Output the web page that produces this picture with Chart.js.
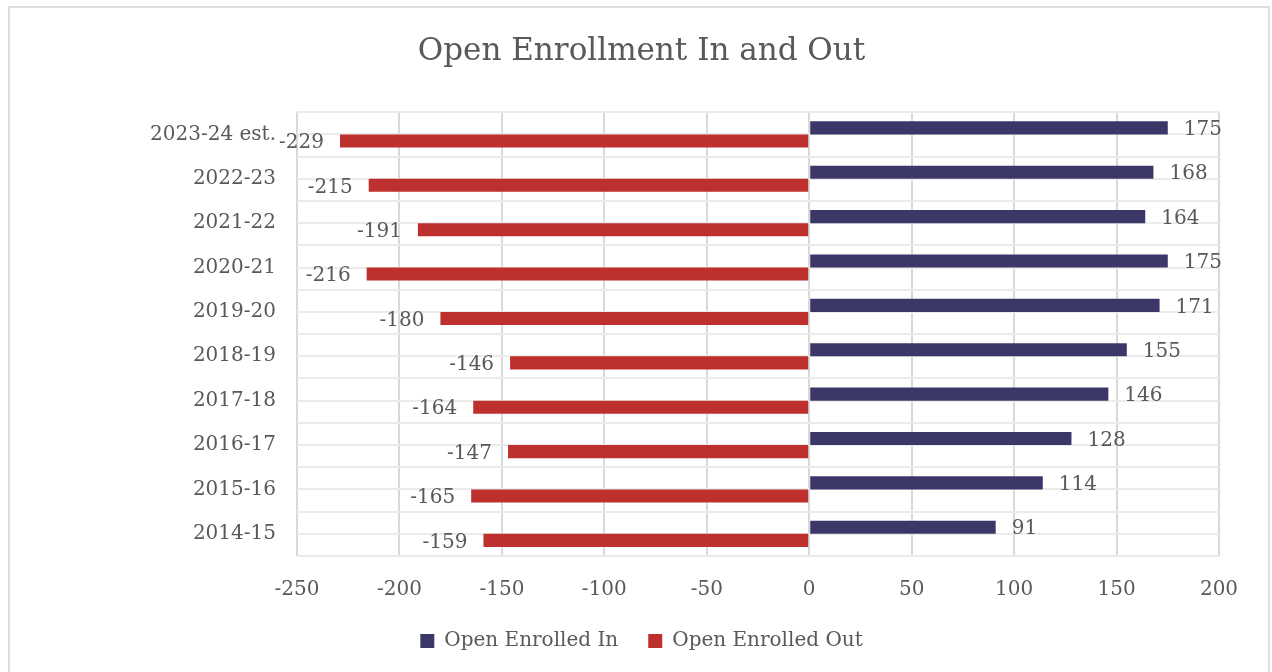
<!DOCTYPE html>
<html>
<head>
<meta charset="utf-8">
<title>Open Enrollment In and Out</title>
<script src="https://cdn.jsdelivr.net/npm/chart.js@4.4.1/dist/chart.umd.min.js"></script>
<style>
  html, body { margin: 0; padding: 0; background: #ffffff; }
  #frame {
    position: absolute; left: 8px; top: 6px; width: 1262px; height: 700px;
    border: 2px solid #dedede; box-sizing: border-box;
  }
  #wrap { position: absolute; left: 0; top: 0; width: 1272px; height: 672px; }
</style>
</head>
<body>
<div id="frame"></div>
<div id="wrap"><canvas id="chart"></canvas></div>
<script>
// school years, top of the chart first
const years = ['2023-24 est.', '2022-23', '2021-22', '2020-21', '2019-20',
  '2018-19', '2017-18', '2016-17', '2015-16', '2014-15'];
const enrolledIn = [175, 168, 164, 175, 171, 155, 146, 128, 114, 91];
const enrolledOut = [-229, -215, -191, -216, -180, -146, -164, -147, -165, -159];
const xTicks = [-250, -200, -150, -100, -50, 0, 50, 100, 150, 200];

const textGray = '#595959';
Chart.defaults.font.family = "'DejaVu Serif', serif";
Chart.defaults.color = textGray;

// value labels next to the bar ends
const valueLabels = {
  id: 'valueLabels',
  afterDatasetsDraw(chart) {
    const ctx = chart.ctx;
    ctx.save();
    ctx.font = "20px 'DejaVu Serif'";
    ctx.fillStyle = textGray;
    ctx.textBaseline = 'middle';
    chart.data.datasets.forEach((ds, di) => {
      chart.getDatasetMeta(di).data.forEach((bar, i) => {
        const v = ds.data[i];
        if (v >= 0) {
          ctx.textAlign = 'left';
          ctx.fillText(String(v), bar.x + 16, bar.y + 2);
        } else {
          ctx.textAlign = 'right';
          ctx.fillText(String(v), bar.x - 16, bar.y + 2);
        }
      });
    });
    ctx.restore();
  }
};

new Chart(document.getElementById('chart'), {
  type: 'bar',
  data: {
    labels: years,
    datasets: [
      {
        label: 'Open Enrolled In',
        data: enrolledIn,
        backgroundColor: '#3b3869',
        categoryPercentage: 0.59,
        barPercentage: 1
      },
      {
        label: 'Open Enrolled Out',
        data: enrolledOut,
        backgroundColor: '#be302e',
        categoryPercentage: 0.59,
        barPercentage: 1
      }
    ]
  },
  options: {
    indexAxis: 'y',
    responsive: true,
    maintainAspectRatio: false,
    animation: false,
    layout: { padding: { left: 64, right: 53, top: 0, bottom: 11 } },
    scales: {
      x: {
        type: 'linear',
        min: -250,
        max: 200,
        afterBuildTicks: s => { s.ticks = xTicks.map(v => ({ value: v })); },
        afterFit: s => { s.height = 45; },
        grid: { color: '#d9d9d9', lineWidth: 2, drawTicks: false },
        border: { display: false },
        ticks: { padding: 22, font: { size: 20 }, color: textGray }
      },
      y: {
        type: 'category',
        offset: true,
        afterFit: s => { s.width = 233; },
        grid: { offset: true, color: '#ebebeb', lineWidth: 2, drawTicks: false },
        border: { display: false },
        ticks: { padding: 21, font: { size: 20 }, color: textGray }
      },
      yMid: {
        type: 'category',
        labels: years,
        position: 'left',
        offset: true,
        afterFit: s => { s.width = 0; },
        grid: { offset: false, color: '#ebebeb', lineWidth: 2, drawTicks: false },
        border: { display: false },
        ticks: { display: false }
      }
    },
    plugins: {
      title: {
        display: true,
        text: 'Open Enrollment In and Out',
        color: textGray,
        font: { size: 31, weight: 'normal' },
        padding: { top: 33, bottom: 42 }
      },
      legend: {
        position: 'bottom',
        labels: {
          boxWidth: 14,
          boxHeight: 14,
          padding: 30,
          font: { size: 20 },
          color: textGray
        }
      },
      tooltip: { enabled: false }
    }
  },
  plugins: [valueLabels]
});
</script>
</body>
</html>
